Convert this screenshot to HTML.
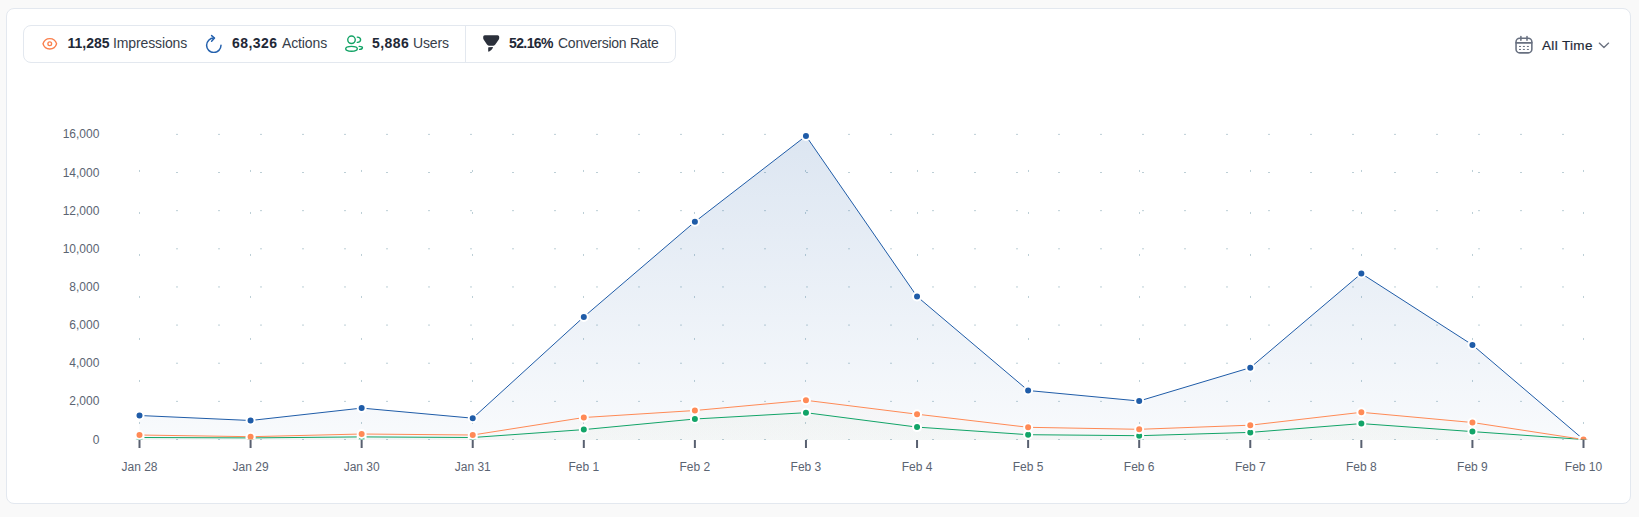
<!DOCTYPE html>
<html><head><meta charset="utf-8"><title>Analytics</title>
<style>
*{box-sizing:border-box;margin:0;padding:0}
html,body{width:1639px;height:517px;overflow:hidden;background:#f9f9f9;font-family:"Liberation Sans",sans-serif}
.card{position:absolute;left:6px;top:8px;width:1625px;height:496px;background:#fff;border:1px solid #e3e8ef;border-radius:8px}
.pill{position:absolute;left:23px;top:25px;width:653px;height:38px;border:1px solid #e3e8ef;border-radius:8px;background:#fff}
.t{position:absolute;font-size:14px;line-height:16px;white-space:nowrap;color:#363d4a}
.n{font-weight:700;color:#1f2937}
.l{letter-spacing:-0.12px}
.icon{position:absolute;display:block}
.icon svg{display:block}
.div{position:absolute;left:465px;top:26px;width:1px;height:36px;background:#e3e8ef}
.chart{position:absolute;left:0;top:0}
</style></head><body>
<div class="card"></div>
<div class="pill"></div>
<div class="div"></div>
<span class="icon" style="left:40px;top:36px"><svg width="20" height="16" viewBox="0 0 20 16" fill="none" stroke="#fa7f4c" stroke-width="1.35" stroke-linecap="round" stroke-linejoin="round"><path d="M3,7.8 C5,0.93 14.6,0.93 16.6,7.8 C14.6,14.67 5,14.67 3,7.8 Z"/><circle cx="9.75" cy="7.75" r="1.85"/></svg></span>
<span class="t n" style="left:67.5px;top:34.8px;letter-spacing:0px">11,285</span>
<span class="t l" style="left:113px;top:34.8px">Impressions</span>
<span class="icon" style="left:204px;top:33px"><svg width="20" height="20" viewBox="0 0 20 20" fill="none" stroke="#2461ad" stroke-width="1.5" stroke-linecap="round" stroke-linejoin="round"><path d="M9.8 5.1 A7.2 7.2 0 1 0 17 12.3"/><path d="M7.6 2.6 L10.5 5.0 L7.6 8.2"/></svg></span>
<span class="t n" style="left:232px;top:34.8px;letter-spacing:0.45px">68,326</span>
<span class="t l" style="left:282px;top:34.8px">Actions</span>
<span class="icon" style="left:342px;top:32px"><svg width="24" height="24" viewBox="0 0 24 24" fill="none" stroke="#13a366" stroke-width="1.4" stroke-linecap="round"><circle cx="9.5" cy="7.8" r="3.75"/><ellipse cx="9.5" cy="16.85" rx="5.8" ry="2.45"/><path d="M15.3 5.1 Q18.6 5.4 18.6 7.7 Q18.6 10.1 15.3 10.4"/><path d="M17.2 14.4 Q20.4 14.5 20.4 15.6 Q20.3 17.1 17.6 17.4"/></svg></span>
<span class="t n" style="left:372px;top:34.8px;letter-spacing:0.45px">5,886</span>
<span class="t l" style="left:413px;top:34.8px">Users</span>
<span class="icon" style="left:479px;top:32px"><svg width="24" height="24" viewBox="0 0 24 24" fill="#2b303b"><path d="M5.8 3.2 H18.6 Q20.2 3.2 20.2 4.8 V6.2 Q20.2 6.8 19.8 7.4 L16.3 12.6 Q15.7 13.7 14.4 13.7 H9.9 Q8.6 13.7 8 12.6 L4.6 7.4 Q4.2 6.8 4.2 6.2 V4.8 Q4.2 3.2 5.8 3.2 Z"/><path d="M9.6 15.2 L13.6 15.1 Q14.2 15.2 13.8 15.9 Q12.6 18.2 10.2 19.6 Q9.2 20 9.2 19 V15.8 Q9.2 15.3 9.6 15.2 Z"/></svg></span>
<span class="t n" style="left:509px;top:34.8px;letter-spacing:-0.6px">52.16%</span>
<span class="t l" style="left:558px;top:34.8px;letter-spacing:-0.25px">Conversion Rate</span>
<span class="icon" style="left:1512px;top:33px"><svg width="24" height="24" viewBox="0 0 24 24" fill="none" stroke="#687080" stroke-width="1.55" stroke-linecap="round"><rect x="4.05" y="5.2" width="15.8" height="14.65" rx="3.6"/><path d="M4.05 9.85 H19.85"/><path d="M8.9 3.6 V7.2 M15 3.6 V7.2"/><g stroke-width="1" stroke-linecap="butt"><path d="M7 13.45 H9 M10.9 13.45 H12.9 M14.9 13.45 H16.9 M7 16.45 H9 M10.9 16.45 H12.9 M14.9 16.45 H16.9"/></g></svg></span>
<span class="t" style="left:1542px;top:37.6px;color:#1f2937;font-size:13.5px;letter-spacing:0.35px;-webkit-text-stroke:0.2px #1f2937">All Time</span>
<span class="icon" style="left:1598px;top:41.7px"><svg width="12" height="8" viewBox="0 0 12 8" fill="none" stroke="#6b7280" stroke-width="1.35" stroke-linecap="round" stroke-linejoin="round"><path d="M1.3 1.1 L5.95 5.6 L10.6 1.1"/></svg></span>
<svg class="chart" width="1639" height="517" viewBox="0 0 1639 517">
<defs>
<linearGradient id="gB" x1="0" y1="0" x2="0" y2="1"><stop offset="0" stop-color="#1f5ca8" stop-opacity="0.155"/><stop offset="1" stop-color="#1f5ca8" stop-opacity="0.03"/></linearGradient>
<linearGradient id="gO" x1="0" y1="0" x2="0" y2="1"><stop offset="0" stop-color="#ff8a56" stop-opacity="0.03"/><stop offset="1" stop-color="#ff8a56" stop-opacity="0.02"/></linearGradient>
<linearGradient id="gG" x1="0" y1="0" x2="0" y2="1"><stop offset="0" stop-color="#12a468" stop-opacity="0.025"/><stop offset="1" stop-color="#12a468" stop-opacity="0.02"/></linearGradient>
<clipPath id="clip"><rect x="0" y="0" width="1639" height="439.6"/></clipPath>
</defs>
<g stroke="#bccfd6" stroke-width="1" stroke-dasharray="2 40" stroke-dashoffset="5.5"><line x1="139.5" y1="439.5" x2="1583.5" y2="439.5"/><line x1="139.5" y1="401.36" x2="1583.5" y2="401.36"/><line x1="139.5" y1="363.22" x2="1583.5" y2="363.22"/><line x1="139.5" y1="325.08" x2="1583.5" y2="325.08"/><line x1="139.5" y1="286.94" x2="1583.5" y2="286.94"/><line x1="139.5" y1="248.8" x2="1583.5" y2="248.8"/><line x1="139.5" y1="210.66" x2="1583.5" y2="210.66"/><line x1="139.5" y1="172.52" x2="1583.5" y2="172.52"/><line x1="139.5" y1="134.38" x2="1583.5" y2="134.38"/></g>
<g stroke="#bccfd6" stroke-width="1" stroke-dasharray="2 40" stroke-dashoffset="6.4"><line x1="139.5" y1="134.38" x2="139.5" y2="439.5"/><line x1="250.5" y1="134.38" x2="250.5" y2="439.5"/><line x1="361.5" y1="134.38" x2="361.5" y2="439.5"/><line x1="472.5" y1="134.38" x2="472.5" y2="439.5"/><line x1="583.5" y1="134.38" x2="583.5" y2="439.5"/><line x1="694.5" y1="134.38" x2="694.5" y2="439.5"/><line x1="805.5" y1="134.38" x2="805.5" y2="439.5"/><line x1="917.5" y1="134.38" x2="917.5" y2="439.5"/><line x1="1028.5" y1="134.38" x2="1028.5" y2="439.5"/><line x1="1139.5" y1="134.38" x2="1139.5" y2="439.5"/><line x1="1250.5" y1="134.38" x2="1250.5" y2="439.5"/><line x1="1361.5" y1="134.38" x2="1361.5" y2="439.5"/><line x1="1472.5" y1="134.38" x2="1472.5" y2="439.5"/><line x1="1583.5" y1="134.38" x2="1583.5" y2="439.5"/></g>
<path d="M139.5,440 L139.5,415.5 250.58,420.5 361.65,408.1 472.73,418.2 583.81,316.9 694.88,221.8 805.96,135.95 917.04,296.5 1028.12,390.5 1139.19,401 1250.27,367.7 1361.35,273.5 1472.42,344.9 1583.5,439.5 L1583.5,440 Z" fill="url(#gB)"/>
<path d="M139.5,440 L139.5,437.5 250.58,437.9 361.65,436.9 472.73,437.5 583.81,429.6 694.88,419 805.96,412.7 917.04,427.1 1028.12,434.7 1139.19,435.7 1250.27,432.4 1361.35,423.6 1472.42,431.6 1583.5,439.5 L1583.5,440 Z" fill="url(#gG)"/>
<path d="M139.5,440 L139.5,435 250.58,436.7 361.65,434 472.73,435 583.81,417.5 694.88,410.5 805.96,400.3 917.04,414.2 1028.12,427.3 1139.19,429.3 1250.27,425.2 1361.35,412.3 1472.42,422.5 1583.5,439.5 L1583.5,440 Z" fill="url(#gO)"/>
<polyline points="139.5,415.5 250.58,420.5 361.65,408.1 472.73,418.2 583.81,316.9 694.88,221.8 805.96,135.95 917.04,296.5 1028.12,390.5 1139.19,401 1250.27,367.7 1361.35,273.5 1472.42,344.9 1583.5,439.5" fill="none" stroke="#1f5ca8" stroke-width="1" stroke-linejoin="round"/>
<polyline points="139.5,437.5 250.58,437.9 361.65,436.9 472.73,437.5 583.81,429.6 694.88,419 805.96,412.7 917.04,427.1 1028.12,434.7 1139.19,435.7 1250.27,432.4 1361.35,423.6 1472.42,431.6 1583.5,439.5" fill="none" stroke="#12a468" stroke-width="1" stroke-linejoin="round"/>
<polyline points="139.5,435 250.58,436.7 361.65,434 472.73,435 583.81,417.5 694.88,410.5 805.96,400.3 917.04,414.2 1028.12,427.3 1139.19,429.3 1250.27,425.2 1361.35,412.3 1472.42,422.5 1583.5,439.5" fill="none" stroke="#ff8a56" stroke-width="1" stroke-linejoin="round"/>
<g clip-path="url(#clip)" fill="#1f5ca8" stroke="#fff" stroke-width="2"><circle cx="139.5" cy="415.5" r="4"/><circle cx="250.58" cy="420.5" r="4"/><circle cx="361.65" cy="408.1" r="4"/><circle cx="472.73" cy="418.2" r="4"/><circle cx="583.81" cy="316.9" r="4"/><circle cx="694.88" cy="221.8" r="4"/><circle cx="805.96" cy="135.95" r="4"/><circle cx="917.04" cy="296.5" r="4"/><circle cx="1028.12" cy="390.5" r="4"/><circle cx="1139.19" cy="401" r="4"/><circle cx="1250.27" cy="367.7" r="4"/><circle cx="1361.35" cy="273.5" r="4"/><circle cx="1472.42" cy="344.9" r="4"/><circle cx="1583.5" cy="439.5" r="4"/></g>
<g clip-path="url(#clip)" fill="#12a468" stroke="#fff" stroke-width="2"><circle cx="139.5" cy="437.5" r="4"/><circle cx="250.58" cy="437.9" r="4"/><circle cx="361.65" cy="436.9" r="4"/><circle cx="472.73" cy="437.5" r="4"/><circle cx="583.81" cy="429.6" r="4"/><circle cx="694.88" cy="419" r="4"/><circle cx="805.96" cy="412.7" r="4"/><circle cx="917.04" cy="427.1" r="4"/><circle cx="1028.12" cy="434.7" r="4"/><circle cx="1139.19" cy="435.7" r="4"/><circle cx="1250.27" cy="432.4" r="4"/><circle cx="1361.35" cy="423.6" r="4"/><circle cx="1472.42" cy="431.6" r="4"/><circle cx="1583.5" cy="439.5" r="4"/></g>
<g clip-path="url(#clip)" fill="#ff8a56" stroke="#fff" stroke-width="2"><circle cx="139.5" cy="435" r="4"/><circle cx="250.58" cy="436.7" r="4"/><circle cx="361.65" cy="434" r="4"/><circle cx="472.73" cy="435" r="4"/><circle cx="583.81" cy="417.5" r="4"/><circle cx="694.88" cy="410.5" r="4"/><circle cx="805.96" cy="400.3" r="4"/><circle cx="917.04" cy="414.2" r="4"/><circle cx="1028.12" cy="427.3" r="4"/><circle cx="1139.19" cy="429.3" r="4"/><circle cx="1250.27" cy="425.2" r="4"/><circle cx="1361.35" cy="412.3" r="4"/><circle cx="1472.42" cy="422.5" r="4"/><circle cx="1583.5" cy="439.5" r="4"/></g>
<g stroke="#596070" stroke-width="2"><line x1="139.5" y1="440" x2="139.5" y2="448"/><line x1="250.58" y1="440" x2="250.58" y2="448"/><line x1="361.65" y1="440" x2="361.65" y2="448"/><line x1="472.73" y1="440" x2="472.73" y2="448"/><line x1="583.81" y1="440" x2="583.81" y2="448"/><line x1="694.88" y1="440" x2="694.88" y2="448"/><line x1="805.96" y1="440" x2="805.96" y2="448"/><line x1="917.04" y1="440" x2="917.04" y2="448"/><line x1="1028.12" y1="440" x2="1028.12" y2="448"/><line x1="1139.19" y1="440" x2="1139.19" y2="448"/><line x1="1250.27" y1="440" x2="1250.27" y2="448"/><line x1="1361.35" y1="440" x2="1361.35" y2="448"/><line x1="1472.42" y1="440" x2="1472.42" y2="448"/><line x1="1583.5" y1="440" x2="1583.5" y2="448"/></g>
<g font-family="Liberation Sans, sans-serif" font-size="12" fill="#5b6472" text-anchor="middle"><text x="139.5" y="471">Jan 28</text><text x="250.58" y="471">Jan 29</text><text x="361.65" y="471">Jan 30</text><text x="472.73" y="471">Jan 31</text><text x="583.81" y="471">Feb 1</text><text x="694.88" y="471">Feb 2</text><text x="805.96" y="471">Feb 3</text><text x="917.04" y="471">Feb 4</text><text x="1028.12" y="471">Feb 5</text><text x="1139.19" y="471">Feb 6</text><text x="1250.27" y="471">Feb 7</text><text x="1361.35" y="471">Feb 8</text><text x="1472.42" y="471">Feb 9</text><text x="1583.5" y="471">Feb 10</text></g>
<g font-family="Liberation Sans, sans-serif" font-size="12" fill="#5b6472" text-anchor="end"><text x="99.4" y="443.5">0</text><text x="99.4" y="405.36">2,000</text><text x="99.4" y="367.22">4,000</text><text x="99.4" y="329.08">6,000</text><text x="99.4" y="290.94">8,000</text><text x="99.4" y="252.8">10,000</text><text x="99.4" y="214.66">12,000</text><text x="99.4" y="176.52">14,000</text><text x="99.4" y="138.38">16,000</text></g>
</svg>
</body></html>
